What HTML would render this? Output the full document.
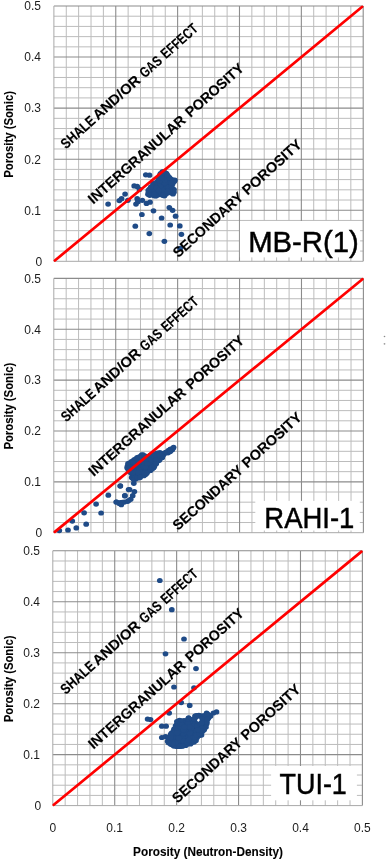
<!DOCTYPE html>
<html lang="en"><head><meta charset="utf-8"><title>Porosity crossplots</title>
<style>html,body{margin:0;padding:0;background:#fff}body{width:387px;height:860px;overflow:hidden}</style></head>
<body>
<svg width="387" height="860" viewBox="0 0 387 860" style="display:block;font-family:'Liberation Sans', sans-serif">
<rect width="387" height="860" fill="#fff"/>
<g>
<path d="M66.27 6.0V261.3M53.9 16.21H363.2M78.64 6.0V261.3M53.9 26.42H363.2M91.02 6.0V261.3M53.9 36.64H363.2M103.39 6.0V261.3M53.9 46.85H363.2M128.13 6.0V261.3M53.9 67.27H363.2M140.50 6.0V261.3M53.9 77.48H363.2M152.88 6.0V261.3M53.9 87.70H363.2M165.25 6.0V261.3M53.9 97.91H363.2M189.99 6.0V261.3M53.9 118.33H363.2M202.36 6.0V261.3M53.9 128.54H363.2M214.74 6.0V261.3M53.9 138.76H363.2M227.11 6.0V261.3M53.9 148.97H363.2M251.85 6.0V261.3M53.9 169.39H363.2M264.22 6.0V261.3M53.9 179.60H363.2M276.60 6.0V261.3M53.9 189.82H363.2M288.97 6.0V261.3M53.9 200.03H363.2M313.71 6.0V261.3M53.9 220.45H363.2M326.08 6.0V261.3M53.9 230.66H363.2M338.46 6.0V261.3M53.9 240.88H363.2M350.83 6.0V261.3M53.9 251.09H363.2" stroke="#bcbcbc" stroke-width="1" fill="none"/>
<path d="M115.76 6.0V261.3M53.9 210.24H363.2M177.62 6.0V261.3M53.9 159.18H363.2M239.48 6.0V261.3M53.9 108.12H363.2M301.34 6.0V261.3M53.9 57.06H363.2M363.20 6.0V261.3M53.9 6.00H363.2" stroke="#8c8c8c" stroke-width="1.1" fill="none"/>
<path d="M53.9 6.0V261.3H363.2" stroke="#a8a8a8" stroke-width="1" fill="none"/>
<text x="42.3" y="265.6" font-size="12" text-anchor="end" fill="#1c1c1c">0</text>
<text x="41.0" y="214.5" font-size="12" text-anchor="end" fill="#1c1c1c">0.1</text>
<text x="41.0" y="163.5" font-size="12" text-anchor="end" fill="#1c1c1c">0.2</text>
<text x="41.0" y="112.4" font-size="12" text-anchor="end" fill="#1c1c1c">0.3</text>
<text x="41.0" y="61.4" font-size="12" text-anchor="end" fill="#1c1c1c">0.4</text>
<text x="41.0" y="10.3" font-size="12" text-anchor="end" fill="#1c1c1c">0.5</text>
<text transform="translate(13.2 177.8) rotate(-90) scale(0.9520 1)" font-size="11.9" font-weight="bold" stroke="#000" stroke-width="0.1" fill="#000">Porosity (Sonic)</text>
<g fill="#1f4b87"><ellipse cx="108.1" cy="204.1" rx="2.85" ry="2.6"/><ellipse cx="119.3" cy="200.6" rx="2.85" ry="2.6"/><ellipse cx="121.6" cy="198.7" rx="2.85" ry="2.6"/><ellipse cx="125.1" cy="194.1" rx="2.85" ry="2.6"/><ellipse cx="127.9" cy="200.3" rx="2.85" ry="2.6"/><ellipse cx="134.2" cy="185.9" rx="2.85" ry="2.6"/><ellipse cx="137.2" cy="186.4" rx="2.85" ry="2.6"/><ellipse cx="137.2" cy="198.7" rx="2.85" ry="2.6"/><ellipse cx="136" cy="204.1" rx="2.85" ry="2.6"/><ellipse cx="139.5" cy="189.4" rx="2.85" ry="2.6"/><ellipse cx="137.9" cy="201.7" rx="2.85" ry="2.6"/><ellipse cx="142.3" cy="200.3" rx="2.85" ry="2.6"/><ellipse cx="141.9" cy="214.5" rx="2.85" ry="2.6"/><ellipse cx="135.3" cy="226.2" rx="2.85" ry="2.6"/><ellipse cx="146.5" cy="203.4" rx="2.85" ry="2.6"/><ellipse cx="150" cy="202.2" rx="2.85" ry="2.6"/><ellipse cx="145.8" cy="174.8" rx="2.85" ry="2.6"/><ellipse cx="149.5" cy="175.2" rx="2.85" ry="2.6"/><ellipse cx="153.5" cy="210.8" rx="2.85" ry="2.6"/><ellipse cx="149.3" cy="233.6" rx="2.85" ry="2.6"/><ellipse cx="161.6" cy="218" rx="2.85" ry="2.6"/><ellipse cx="169.3" cy="207.6" rx="2.85" ry="2.6"/><ellipse cx="172.6" cy="210.3" rx="2.85" ry="2.6"/><ellipse cx="175.6" cy="216.2" rx="2.85" ry="2.6"/><ellipse cx="170.2" cy="225" rx="2.85" ry="2.6"/><ellipse cx="179.8" cy="225.9" rx="2.85" ry="2.6"/><ellipse cx="181.4" cy="234.3" rx="2.85" ry="2.6"/><ellipse cx="164.4" cy="241.3" rx="2.85" ry="2.6"/><ellipse cx="180.2" cy="248.3" rx="2.85" ry="2.6"/><ellipse cx="148.6" cy="192.3" rx="2.85" ry="2.6"/><ellipse cx="149.3" cy="189.3" rx="2.85" ry="2.6"/><ellipse cx="162.9" cy="172" rx="2.85" ry="2.6"/><ellipse cx="160.3" cy="174.5" rx="2.85" ry="2.6"/><ellipse cx="174.6" cy="180.5" rx="2.85" ry="2.6"/><ellipse cx="173.5" cy="191.5" rx="2.85" ry="2.6"/><ellipse cx="172.3" cy="193.3" rx="2.85" ry="2.6"/><ellipse cx="164.6" cy="195.5" rx="2.85" ry="2.6"/><ellipse cx="156.5" cy="195.6" rx="2.85" ry="2.6"/><ellipse cx="151" cy="194.5" rx="2.85" ry="2.6"/><ellipse cx="166.5" cy="173.5" rx="2.85" ry="2.6"/><ellipse cx="169.5" cy="177.5" rx="2.85" ry="2.6"/><ellipse cx="153" cy="183.5" rx="2.85" ry="2.6"/><ellipse cx="150.0" cy="193.8" rx="2.85" ry="2.6"/><ellipse cx="160.0" cy="188.1" rx="2.85" ry="2.6"/><ellipse cx="172.4" cy="181.7" rx="2.85" ry="2.6"/><ellipse cx="166.2" cy="174.5" rx="2.85" ry="2.6"/><ellipse cx="168.7" cy="189.8" rx="2.85" ry="2.6"/><ellipse cx="159.2" cy="193.3" rx="2.85" ry="2.6"/><ellipse cx="155.4" cy="186.2" rx="2.85" ry="2.6"/><ellipse cx="172.7" cy="183.8" rx="2.85" ry="2.6"/><ellipse cx="159.7" cy="183.9" rx="2.85" ry="2.6"/><ellipse cx="170.3" cy="184.8" rx="2.85" ry="2.6"/><ellipse cx="160.3" cy="176.9" rx="2.85" ry="2.6"/><ellipse cx="163.9" cy="174.9" rx="2.85" ry="2.6"/><ellipse cx="162.9" cy="187.2" rx="2.85" ry="2.6"/><ellipse cx="164.3" cy="194.2" rx="2.85" ry="2.6"/><ellipse cx="171.2" cy="192.3" rx="2.85" ry="2.6"/><ellipse cx="172.6" cy="188.7" rx="2.85" ry="2.6"/><ellipse cx="158.0" cy="181.3" rx="2.85" ry="2.6"/><ellipse cx="152.4" cy="186.7" rx="2.85" ry="2.6"/><ellipse cx="164.1" cy="178.4" rx="2.85" ry="2.6"/><ellipse cx="155.1" cy="183.6" rx="2.85" ry="2.6"/><ellipse cx="156.1" cy="194.5" rx="2.85" ry="2.6"/><ellipse cx="170.7" cy="179.0" rx="2.85" ry="2.6"/><ellipse cx="152.5" cy="188.7" rx="2.85" ry="2.6"/><ellipse cx="152.5" cy="191.2" rx="2.85" ry="2.6"/><ellipse cx="172.5" cy="179.8" rx="2.85" ry="2.6"/><ellipse cx="148.0" cy="194.3" rx="2.85" ry="2.6"/><ellipse cx="154.5" cy="192.0" rx="2.85" ry="2.6"/><ellipse cx="174.8" cy="180.1" rx="2.85" ry="2.6"/><ellipse cx="163.0" cy="189.1" rx="2.85" ry="2.6"/><ellipse cx="154.0" cy="184.9" rx="2.85" ry="2.6"/><ellipse cx="166.5" cy="187.8" rx="2.85" ry="2.6"/><ellipse cx="172.5" cy="190.8" rx="2.85" ry="2.6"/><ellipse cx="150.7" cy="189.9" rx="2.85" ry="2.6"/><ellipse cx="163.2" cy="184.9" rx="2.85" ry="2.6"/><ellipse cx="166.3" cy="181.2" rx="2.85" ry="2.6"/><ellipse cx="158.9" cy="185.4" rx="2.85" ry="2.6"/><ellipse cx="155.6" cy="189.3" rx="2.85" ry="2.6"/><ellipse cx="157.6" cy="189.5" rx="2.85" ry="2.6"/><ellipse cx="162.1" cy="173.9" rx="2.85" ry="2.6"/><ellipse cx="171.5" cy="187.4" rx="2.85" ry="2.6"/><ellipse cx="154.2" cy="195.7" rx="2.85" ry="2.6"/><ellipse cx="163.0" cy="177.1" rx="2.85" ry="2.6"/><ellipse cx="163.1" cy="183.4" rx="2.85" ry="2.6"/><ellipse cx="158.4" cy="191.9" rx="2.85" ry="2.6"/><ellipse cx="169.6" cy="183.4" rx="2.85" ry="2.6"/><ellipse cx="162.4" cy="179.8" rx="2.85" ry="2.6"/><ellipse cx="166.5" cy="189.9" rx="2.85" ry="2.6"/><ellipse cx="168.5" cy="179.6" rx="2.85" ry="2.6"/><ellipse cx="168.2" cy="192.8" rx="2.85" ry="2.6"/><ellipse cx="164.2" cy="195.8" rx="2.85" ry="2.6"/><ellipse cx="158.5" cy="194.7" rx="2.85" ry="2.6"/><ellipse cx="150.3" cy="188.4" rx="2.85" ry="2.6"/><ellipse cx="158.1" cy="187.5" rx="2.85" ry="2.6"/><ellipse cx="152.1" cy="194.7" rx="2.85" ry="2.6"/><ellipse cx="173.0" cy="193.9" rx="2.85" ry="2.6"/><ellipse cx="148.6" cy="192.4" rx="2.85" ry="2.6"/><ellipse cx="164.3" cy="172.1" rx="2.85" ry="2.6"/><ellipse cx="168.1" cy="184.7" rx="2.85" ry="2.6"/><ellipse cx="162.3" cy="171.9" rx="2.85" ry="2.6"/><ellipse cx="170.7" cy="189.6" rx="2.85" ry="2.6"/><ellipse cx="154.0" cy="187.5" rx="2.85" ry="2.6"/><ellipse cx="174.2" cy="181.5" rx="2.85" ry="2.6"/><ellipse cx="173.9" cy="192.3" rx="2.85" ry="2.6"/><ellipse cx="163.0" cy="192.9" rx="2.85" ry="2.6"/><ellipse cx="156.4" cy="182.4" rx="2.85" ry="2.6"/><ellipse cx="163.3" cy="181.3" rx="2.85" ry="2.6"/><ellipse cx="167.9" cy="176.9" rx="2.85" ry="2.6"/><ellipse cx="160.7" cy="178.9" rx="2.85" ry="2.6"/><ellipse cx="166.1" cy="176.1" rx="2.85" ry="2.6"/><ellipse cx="156.9" cy="192.5" rx="2.85" ry="2.6"/><ellipse cx="165.5" cy="184.5" rx="2.85" ry="2.6"/><ellipse cx="160.4" cy="191.8" rx="2.85" ry="2.6"/><ellipse cx="166.6" cy="192.4" rx="2.85" ry="2.6"/><ellipse cx="166.2" cy="183.0" rx="2.85" ry="2.6"/><ellipse cx="161.7" cy="194.0" rx="2.85" ry="2.6"/><ellipse cx="152.5" cy="193.0" rx="2.85" ry="2.6"/><ellipse cx="160.9" cy="181.5" rx="2.85" ry="2.6"/><ellipse cx="170.4" cy="181.2" rx="2.85" ry="2.6"/><ellipse cx="155.8" cy="196.0" rx="2.85" ry="2.6"/><ellipse cx="164.5" cy="192.0" rx="2.85" ry="2.6"/><ellipse cx="165.1" cy="187.1" rx="2.85" ry="2.6"/><ellipse cx="161.4" cy="183.7" rx="2.85" ry="2.6"/><ellipse cx="165.7" cy="173.0" rx="2.85" ry="2.6"/><ellipse cx="158.6" cy="179.6" rx="2.85" ry="2.6"/><ellipse cx="166.6" cy="185.6" rx="2.85" ry="2.6"/><ellipse cx="161.9" cy="185.7" rx="2.85" ry="2.6"/><ellipse cx="168.2" cy="182.4" rx="2.85" ry="2.6"/><ellipse cx="174.0" cy="189.5" rx="2.85" ry="2.6"/><ellipse cx="169.8" cy="187.3" rx="2.85" ry="2.6"/><ellipse cx="164.7" cy="176.8" rx="2.85" ry="2.6"/><ellipse cx="149.8" cy="191.4" rx="2.85" ry="2.6"/><ellipse cx="169.8" cy="191.6" rx="2.85" ry="2.6"/><ellipse cx="165.9" cy="179.6" rx="2.85" ry="2.6"/><ellipse cx="161.7" cy="175.5" rx="2.85" ry="2.6"/><ellipse cx="148.3" cy="190.3" rx="2.85" ry="2.6"/><ellipse cx="161.8" cy="190.6" rx="2.85" ry="2.6"/><ellipse cx="160.3" cy="190.0" rx="2.85" ry="2.6"/><ellipse cx="166.3" cy="178.0" rx="2.85" ry="2.6"/><ellipse cx="164.6" cy="188.9" rx="2.85" ry="2.6"/><ellipse cx="157.3" cy="184.1" rx="2.85" ry="2.6"/><ellipse cx="156.9" cy="190.9" rx="2.85" ry="2.6"/><ellipse cx="163.5" cy="190.7" rx="2.85" ry="2.6"/><ellipse cx="151.1" cy="192.2" rx="2.85" ry="2.6"/><ellipse cx="169.4" cy="177.8" rx="2.85" ry="2.6"/><ellipse cx="156.9" cy="186.5" rx="2.85" ry="2.6"/><ellipse cx="160.5" cy="173.7" rx="2.85" ry="2.6"/><ellipse cx="159.1" cy="178.0" rx="2.85" ry="2.6"/><ellipse cx="168.2" cy="187.3" rx="2.85" ry="2.6"/><ellipse cx="165.8" cy="194.0" rx="2.85" ry="2.6"/><ellipse cx="161.5" cy="188.6" rx="2.85" ry="2.6"/><ellipse cx="171.6" cy="185.7" rx="2.85" ry="2.6"/><ellipse cx="164.6" cy="183.0" rx="2.85" ry="2.6"/><ellipse cx="160.3" cy="186.3" rx="2.85" ry="2.6"/><ellipse cx="149.7" cy="195.3" rx="2.85" ry="2.6"/><ellipse cx="171.3" cy="183.0" rx="2.85" ry="2.6"/><ellipse cx="155.5" cy="193.1" rx="2.85" ry="2.6"/><ellipse cx="159.2" cy="182.4" rx="2.85" ry="2.6"/><ellipse cx="167.7" cy="175.3" rx="2.85" ry="2.6"/><ellipse cx="153.9" cy="190.4" rx="2.85" ry="2.6"/><ellipse cx="156.5" cy="188.1" rx="2.85" ry="2.6"/><ellipse cx="154.2" cy="194.0" rx="2.85" ry="2.6"/><ellipse cx="167.8" cy="191.3" rx="2.85" ry="2.6"/><ellipse cx="162.6" cy="195.3" rx="2.85" ry="2.6"/><ellipse cx="164.6" cy="180.4" rx="2.85" ry="2.6"/><ellipse cx="159.6" cy="180.8" rx="2.85" ry="2.6"/><ellipse cx="150.9" cy="186.9" rx="2.85" ry="2.6"/><ellipse cx="158.8" cy="190.4" rx="2.85" ry="2.6"/><ellipse cx="160.0" cy="175.3" rx="2.85" ry="2.6"/><ellipse cx="162.1" cy="178.3" rx="2.85" ry="2.6"/></g>
<line x1="54.9" y1="260.48" x2="362.2" y2="6.82" stroke="#f00" stroke-width="2.7" stroke-linecap="round"/>
<g transform="translate(66.0 149.5) rotate(-42)" stroke="#000" stroke-width="0.12" fill="#000"><text transform="translate(0 0) scale(0.8405 1)" font-size="14.4" font-weight="bold">SHALE</text> <text transform="translate(43 0) scale(1.0306 1)" font-size="14.4" font-weight="bold">AND/OR</text> <text transform="translate(106 0) scale(0.7888 1)" font-size="14.4" font-weight="bold">GAS</text> <text transform="translate(134.7 0) scale(0.7915 1)" font-size="14.4" font-weight="bold">EFFECT</text></g>
<g transform="translate(93.3 204.7) rotate(-41.7)" stroke="#000" stroke-width="0.12" fill="#000"><text transform="translate(0 0) scale(0.9959 1)" font-size="14.4" font-weight="bold">INTERGRANULAR</text> <text transform="translate(130.2 0) scale(0.9815 1)" font-size="14.4" font-weight="bold">POROSITY</text></g>
<g transform="translate(176.7 259.5) rotate(-42)" stroke="#000" stroke-width="0.12" fill="#000"><text transform="translate(2.0 0) scale(0.9735 1)" font-size="14.4" font-weight="bold">SECONDARY</text> <text transform="translate(95.3 0) scale(1.0044 1)" font-size="14.4" font-weight="bold">POROSITY</text></g>
<rect x="239.9" y="221.0" width="120.2" height="36.4" fill="#fff"/>
<text transform="translate(248.15 251.6) scale(1.0241 1)" font-size="28.6" fill="#000" stroke="#000" stroke-width="0.45">MB-R(1)</text>
</g>
<g>
<path d="M66.18 278.4V532.7M53.8 288.57H363.4M78.57 278.4V532.7M53.8 298.74H363.4M90.95 278.4V532.7M53.8 308.92H363.4M103.34 278.4V532.7M53.8 319.09H363.4M128.10 278.4V532.7M53.8 339.43H363.4M140.49 278.4V532.7M53.8 349.60H363.4M152.87 278.4V532.7M53.8 359.78H363.4M165.26 278.4V532.7M53.8 369.95H363.4M190.02 278.4V532.7M53.8 390.29H363.4M202.41 278.4V532.7M53.8 400.46H363.4M214.79 278.4V532.7M53.8 410.64H363.4M227.18 278.4V532.7M53.8 420.81H363.4M251.94 278.4V532.7M53.8 441.15H363.4M264.33 278.4V532.7M53.8 451.32H363.4M276.71 278.4V532.7M53.8 461.50H363.4M289.10 278.4V532.7M53.8 471.67H363.4M313.86 278.4V532.7M53.8 492.01H363.4M326.25 278.4V532.7M53.8 502.18H363.4M338.63 278.4V532.7M53.8 512.36H363.4M351.02 278.4V532.7M53.8 522.53H363.4" stroke="#bcbcbc" stroke-width="1" fill="none"/>
<path d="M115.72 278.4V532.7M53.8 481.84H363.4M177.64 278.4V532.7M53.8 430.98H363.4M239.56 278.4V532.7M53.8 380.12H363.4M301.48 278.4V532.7M53.8 329.26H363.4M363.40 278.4V532.7M53.8 278.40H363.4" stroke="#8c8c8c" stroke-width="1.1" fill="none"/>
<path d="M53.8 278.4V532.7H363.4" stroke="#a8a8a8" stroke-width="1" fill="none"/>
<text x="42.3" y="537.0" font-size="12" text-anchor="end" fill="#1c1c1c">0</text>
<text x="41.0" y="486.1" font-size="12" text-anchor="end" fill="#1c1c1c">0.1</text>
<text x="41.0" y="435.3" font-size="12" text-anchor="end" fill="#1c1c1c">0.2</text>
<text x="41.0" y="384.4" font-size="12" text-anchor="end" fill="#1c1c1c">0.3</text>
<text x="41.0" y="333.6" font-size="12" text-anchor="end" fill="#1c1c1c">0.4</text>
<text x="41.0" y="282.7" font-size="12" text-anchor="end" fill="#1c1c1c">0.5</text>
<text transform="translate(13.2 449.6) rotate(-90) scale(0.9520 1)" font-size="11.9" font-weight="bold" stroke="#000" stroke-width="0.1" fill="#000">Porosity (Sonic)</text>
<g fill="#1f4b87"><ellipse cx="59.3" cy="530.6" rx="2.85" ry="2.6"/><ellipse cx="68" cy="530" rx="2.85" ry="2.6"/><ellipse cx="76.3" cy="527.9" rx="2.85" ry="2.6"/><ellipse cx="72.3" cy="521.1" rx="2.85" ry="2.6"/><ellipse cx="86.2" cy="524.2" rx="2.85" ry="2.6"/><ellipse cx="84.1" cy="512.8" rx="2.85" ry="2.6"/><ellipse cx="101.1" cy="513" rx="2.85" ry="2.6"/><ellipse cx="96.1" cy="504.1" rx="2.85" ry="2.6"/><ellipse cx="108.3" cy="495.2" rx="2.85" ry="2.6"/><ellipse cx="120.3" cy="486.1" rx="2.85" ry="2.6"/><ellipse cx="116.6" cy="502" rx="2.85" ry="2.6"/><ellipse cx="120.3" cy="502.7" rx="2.85" ry="2.6"/><ellipse cx="121.3" cy="504.7" rx="2.85" ry="2.6"/><ellipse cx="124.4" cy="502" rx="2.85" ry="2.6"/><ellipse cx="124.8" cy="495.8" rx="2.85" ry="2.6"/><ellipse cx="128.6" cy="500.6" rx="2.85" ry="2.6"/><ellipse cx="128.6" cy="489.6" rx="2.85" ry="2.6"/><ellipse cx="120.3" cy="485.8" rx="2.85" ry="2.6"/><ellipse cx="129.6" cy="489.5" rx="2.85" ry="2.6"/><ellipse cx="134.4" cy="491.6" rx="2.85" ry="2.6"/><ellipse cx="124.9" cy="495.7" rx="2.85" ry="2.6"/><ellipse cx="132.7" cy="495.7" rx="2.85" ry="2.6"/><ellipse cx="130.7" cy="499.3" rx="2.85" ry="2.6"/><ellipse cx="127.6" cy="501.3" rx="2.85" ry="2.6"/><ellipse cx="122.4" cy="502.4" rx="2.85" ry="2.6"/><ellipse cx="119.3" cy="503.4" rx="2.85" ry="2.6"/><ellipse cx="116.2" cy="502" rx="2.85" ry="2.6"/><ellipse cx="133.8" cy="483.3" rx="2.85" ry="2.6"/><ellipse cx="131.7" cy="477.5" rx="2.85" ry="2.6"/><ellipse cx="173.6" cy="447.3" rx="2.85" ry="2.6"/><ellipse cx="172.3" cy="449.8" rx="2.85" ry="2.6"/><ellipse cx="170.2" cy="451.6" rx="2.85" ry="2.6"/><ellipse cx="168" cy="452.8" rx="2.85" ry="2.6"/><ellipse cx="165.8" cy="452.4" rx="2.85" ry="2.6"/><ellipse cx="164" cy="453.5" rx="2.85" ry="2.6"/><ellipse cx="160.3" cy="452.9" rx="2.85" ry="2.6"/><ellipse cx="170.6" cy="449" rx="2.85" ry="2.6"/><ellipse cx="162.3" cy="457.6" rx="2.85" ry="2.6"/><ellipse cx="159.3" cy="460.3" rx="2.85" ry="2.6"/><ellipse cx="156.3" cy="463.6" rx="2.85" ry="2.6"/><ellipse cx="153.6" cy="467.5" rx="2.85" ry="2.6"/><ellipse cx="159.2" cy="456.2" rx="2.85" ry="2.6"/><ellipse cx="133.4" cy="460.7" rx="2.85" ry="2.6"/><ellipse cx="145.2" cy="471.6" rx="2.85" ry="2.6"/><ellipse cx="148.8" cy="456.5" rx="2.85" ry="2.6"/><ellipse cx="132.3" cy="463.7" rx="2.85" ry="2.6"/><ellipse cx="148.6" cy="465.8" rx="2.85" ry="2.6"/><ellipse cx="150.8" cy="464.0" rx="2.85" ry="2.6"/><ellipse cx="142.7" cy="467.6" rx="2.85" ry="2.6"/><ellipse cx="138.3" cy="460.4" rx="2.85" ry="2.6"/><ellipse cx="161.9" cy="453.7" rx="2.85" ry="2.6"/><ellipse cx="143.9" cy="464.0" rx="2.85" ry="2.6"/><ellipse cx="156.2" cy="455.5" rx="2.85" ry="2.6"/><ellipse cx="140.8" cy="476.0" rx="2.85" ry="2.6"/><ellipse cx="139.7" cy="458.6" rx="2.85" ry="2.6"/><ellipse cx="151.9" cy="462.5" rx="2.85" ry="2.6"/><ellipse cx="147.0" cy="470.0" rx="2.85" ry="2.6"/><ellipse cx="137.1" cy="469.7" rx="2.85" ry="2.6"/><ellipse cx="138.4" cy="478.0" rx="2.85" ry="2.6"/><ellipse cx="148.6" cy="470.9" rx="2.85" ry="2.6"/><ellipse cx="135.5" cy="472.4" rx="2.85" ry="2.6"/><ellipse cx="140.7" cy="468.7" rx="2.85" ry="2.6"/><ellipse cx="158.3" cy="459.3" rx="2.85" ry="2.6"/><ellipse cx="147.7" cy="468.5" rx="2.85" ry="2.6"/><ellipse cx="143.1" cy="458.1" rx="2.85" ry="2.6"/><ellipse cx="132.7" cy="476.4" rx="2.85" ry="2.6"/><ellipse cx="142.4" cy="473.3" rx="2.85" ry="2.6"/><ellipse cx="145.2" cy="462.3" rx="2.85" ry="2.6"/><ellipse cx="148.3" cy="460.0" rx="2.85" ry="2.6"/><ellipse cx="137.6" cy="462.6" rx="2.85" ry="2.6"/><ellipse cx="135.5" cy="478.9" rx="2.85" ry="2.6"/><ellipse cx="136.2" cy="458.8" rx="2.85" ry="2.6"/><ellipse cx="145.5" cy="474.4" rx="2.85" ry="2.6"/><ellipse cx="135.2" cy="466.3" rx="2.85" ry="2.6"/><ellipse cx="135.9" cy="475.4" rx="2.85" ry="2.6"/><ellipse cx="160.8" cy="454.8" rx="2.85" ry="2.6"/><ellipse cx="152.5" cy="459.3" rx="2.85" ry="2.6"/><ellipse cx="134.0" cy="467.2" rx="2.85" ry="2.6"/><ellipse cx="136.6" cy="467.6" rx="2.85" ry="2.6"/><ellipse cx="161.9" cy="457.5" rx="2.85" ry="2.6"/><ellipse cx="135.6" cy="470.9" rx="2.85" ry="2.6"/><ellipse cx="136.7" cy="464.5" rx="2.85" ry="2.6"/><ellipse cx="141.6" cy="464.7" rx="2.85" ry="2.6"/><ellipse cx="129.3" cy="464.8" rx="2.85" ry="2.6"/><ellipse cx="150.6" cy="455.2" rx="2.85" ry="2.6"/><ellipse cx="171.5" cy="449.4" rx="2.85" ry="2.6"/><ellipse cx="153.0" cy="465.9" rx="2.85" ry="2.6"/><ellipse cx="160.5" cy="458.2" rx="2.85" ry="2.6"/><ellipse cx="132.8" cy="469.4" rx="2.85" ry="2.6"/><ellipse cx="145.8" cy="468.8" rx="2.85" ry="2.6"/><ellipse cx="142.0" cy="462.5" rx="2.85" ry="2.6"/><ellipse cx="139.5" cy="463.4" rx="2.85" ry="2.6"/><ellipse cx="137.6" cy="476.1" rx="2.85" ry="2.6"/><ellipse cx="134.3" cy="474.6" rx="2.85" ry="2.6"/><ellipse cx="168.2" cy="450.5" rx="2.85" ry="2.6"/><ellipse cx="164.7" cy="453.2" rx="2.85" ry="2.6"/><ellipse cx="144.4" cy="460.4" rx="2.85" ry="2.6"/><ellipse cx="137.1" cy="457.5" rx="2.85" ry="2.6"/><ellipse cx="145.2" cy="465.7" rx="2.85" ry="2.6"/><ellipse cx="154.5" cy="464.3" rx="2.85" ry="2.6"/><ellipse cx="159.6" cy="452.9" rx="2.85" ry="2.6"/><ellipse cx="152.9" cy="456.0" rx="2.85" ry="2.6"/><ellipse cx="157.9" cy="455.2" rx="2.85" ry="2.6"/><ellipse cx="132.0" cy="474.0" rx="2.85" ry="2.6"/><ellipse cx="140.1" cy="473.5" rx="2.85" ry="2.6"/><ellipse cx="149.3" cy="469.2" rx="2.85" ry="2.6"/><ellipse cx="152.4" cy="468.7" rx="2.85" ry="2.6"/><ellipse cx="129.5" cy="471.3" rx="2.85" ry="2.6"/><ellipse cx="139.2" cy="467.9" rx="2.85" ry="2.6"/><ellipse cx="147.0" cy="471.7" rx="2.85" ry="2.6"/><ellipse cx="128.2" cy="469.2" rx="2.85" ry="2.6"/><ellipse cx="163.3" cy="455.0" rx="2.85" ry="2.6"/><ellipse cx="138.8" cy="475.2" rx="2.85" ry="2.6"/><ellipse cx="146.0" cy="464.3" rx="2.85" ry="2.6"/><ellipse cx="166.1" cy="452.6" rx="2.85" ry="2.6"/><ellipse cx="149.9" cy="467.2" rx="2.85" ry="2.6"/><ellipse cx="146.0" cy="460.6" rx="2.85" ry="2.6"/><ellipse cx="173.2" cy="448.1" rx="2.85" ry="2.6"/><ellipse cx="152.1" cy="457.3" rx="2.85" ry="2.6"/><ellipse cx="154.8" cy="460.8" rx="2.85" ry="2.6"/><ellipse cx="141.7" cy="466.4" rx="2.85" ry="2.6"/><ellipse cx="132.9" cy="478.4" rx="2.85" ry="2.6"/><ellipse cx="129.7" cy="463.1" rx="2.85" ry="2.6"/><ellipse cx="154.8" cy="457.8" rx="2.85" ry="2.6"/><ellipse cx="134.6" cy="469.3" rx="2.85" ry="2.6"/><ellipse cx="153.5" cy="454.5" rx="2.85" ry="2.6"/><ellipse cx="138.1" cy="466.9" rx="2.85" ry="2.6"/><ellipse cx="133.2" cy="465.0" rx="2.85" ry="2.6"/><ellipse cx="140.7" cy="459.8" rx="2.85" ry="2.6"/><ellipse cx="128.7" cy="467.6" rx="2.85" ry="2.6"/><ellipse cx="130.7" cy="465.4" rx="2.85" ry="2.6"/><ellipse cx="146.2" cy="456.4" rx="2.85" ry="2.6"/><ellipse cx="143.9" cy="469.0" rx="2.85" ry="2.6"/><ellipse cx="134.6" cy="462.1" rx="2.85" ry="2.6"/><ellipse cx="157.5" cy="453.1" rx="2.85" ry="2.6"/><ellipse cx="154.6" cy="462.5" rx="2.85" ry="2.6"/><ellipse cx="147.5" cy="461.8" rx="2.85" ry="2.6"/><ellipse cx="131.3" cy="461.7" rx="2.85" ry="2.6"/><ellipse cx="127.5" cy="466.1" rx="2.85" ry="2.6"/><ellipse cx="156.9" cy="458.4" rx="2.85" ry="2.6"/><ellipse cx="156.0" cy="453.6" rx="2.85" ry="2.6"/><ellipse cx="132.2" cy="471.1" rx="2.85" ry="2.6"/><ellipse cx="138.4" cy="470.9" rx="2.85" ry="2.6"/><ellipse cx="156.2" cy="462.1" rx="2.85" ry="2.6"/><ellipse cx="137.3" cy="474.1" rx="2.85" ry="2.6"/><ellipse cx="141.7" cy="457.5" rx="2.85" ry="2.6"/><ellipse cx="142.4" cy="475.3" rx="2.85" ry="2.6"/><ellipse cx="150.5" cy="470.4" rx="2.85" ry="2.6"/><ellipse cx="139.5" cy="472.1" rx="2.85" ry="2.6"/><ellipse cx="134.3" cy="459.5" rx="2.85" ry="2.6"/><ellipse cx="170.0" cy="449.5" rx="2.85" ry="2.6"/><ellipse cx="147.4" cy="457.8" rx="2.85" ry="2.6"/><ellipse cx="130.2" cy="469.7" rx="2.85" ry="2.6"/><ellipse cx="128.0" cy="463.5" rx="2.85" ry="2.6"/><ellipse cx="140.2" cy="456.6" rx="2.85" ry="2.6"/><ellipse cx="144.6" cy="456.3" rx="2.85" ry="2.6"/><ellipse cx="141.7" cy="454.9" rx="2.85" ry="2.6"/><ellipse cx="157.8" cy="460.8" rx="2.85" ry="2.6"/><ellipse cx="134.0" cy="471.7" rx="2.85" ry="2.6"/><ellipse cx="142.1" cy="469.4" rx="2.85" ry="2.6"/><ellipse cx="151.3" cy="460.5" rx="2.85" ry="2.6"/><ellipse cx="132.5" cy="467.0" rx="2.85" ry="2.6"/><ellipse cx="142.6" cy="459.6" rx="2.85" ry="2.6"/><ellipse cx="158.4" cy="457.5" rx="2.85" ry="2.6"/><ellipse cx="150.7" cy="458.9" rx="2.85" ry="2.6"/><ellipse cx="149.9" cy="462.0" rx="2.85" ry="2.6"/><ellipse cx="143.5" cy="471.7" rx="2.85" ry="2.6"/><ellipse cx="143.2" cy="454.8" rx="2.85" ry="2.6"/><ellipse cx="140.0" cy="464.8" rx="2.85" ry="2.6"/><ellipse cx="130.4" cy="467.0" rx="2.85" ry="2.6"/><ellipse cx="148.9" cy="464.1" rx="2.85" ry="2.6"/><ellipse cx="151.5" cy="465.3" rx="2.85" ry="2.6"/><ellipse cx="140.2" cy="466.3" rx="2.85" ry="2.6"/><ellipse cx="134.2" cy="476.1" rx="2.85" ry="2.6"/><ellipse cx="138.8" cy="457.2" rx="2.85" ry="2.6"/><ellipse cx="130.5" cy="472.6" rx="2.85" ry="2.6"/><ellipse cx="140.8" cy="470.7" rx="2.85" ry="2.6"/><ellipse cx="139.2" cy="469.6" rx="2.85" ry="2.6"/><ellipse cx="147.0" cy="466.6" rx="2.85" ry="2.6"/><ellipse cx="143.3" cy="465.8" rx="2.85" ry="2.6"/><ellipse cx="150.9" cy="468.9" rx="2.85" ry="2.6"/><ellipse cx="135.7" cy="460.9" rx="2.85" ry="2.6"/><ellipse cx="138.3" cy="464.3" rx="2.85" ry="2.6"/><ellipse cx="141.2" cy="472.3" rx="2.85" ry="2.6"/><ellipse cx="140.5" cy="461.5" rx="2.85" ry="2.6"/><ellipse cx="144.9" cy="457.9" rx="2.85" ry="2.6"/><ellipse cx="149.0" cy="458.2" rx="2.85" ry="2.6"/><ellipse cx="167.6" cy="452.2" rx="2.85" ry="2.6"/><ellipse cx="134.9" cy="477.4" rx="2.85" ry="2.6"/><ellipse cx="134.8" cy="464.1" rx="2.85" ry="2.6"/><ellipse cx="152.9" cy="463.9" rx="2.85" ry="2.6"/><ellipse cx="154.4" cy="456.2" rx="2.85" ry="2.6"/><ellipse cx="161.9" cy="455.9" rx="2.85" ry="2.6"/><ellipse cx="153.4" cy="461.3" rx="2.85" ry="2.6"/><ellipse cx="139.0" cy="461.8" rx="2.85" ry="2.6"/><ellipse cx="153.7" cy="467.4" rx="2.85" ry="2.6"/><ellipse cx="133.9" cy="479.7" rx="2.85" ry="2.6"/><ellipse cx="132.7" cy="472.6" rx="2.85" ry="2.6"/><ellipse cx="136.9" cy="477.7" rx="2.85" ry="2.6"/><ellipse cx="145.5" cy="467.3" rx="2.85" ry="2.6"/><ellipse cx="143.4" cy="461.8" rx="2.85" ry="2.6"/><ellipse cx="170.2" cy="451.0" rx="2.85" ry="2.6"/><ellipse cx="138.1" cy="472.7" rx="2.85" ry="2.6"/><ellipse cx="151.9" cy="467.0" rx="2.85" ry="2.6"/><ellipse cx="143.9" cy="475.7" rx="2.85" ry="2.6"/><ellipse cx="140.1" cy="477.4" rx="2.85" ry="2.6"/><ellipse cx="150.5" cy="457.3" rx="2.85" ry="2.6"/><ellipse cx="156.1" cy="460.0" rx="2.85" ry="2.6"/><ellipse cx="149.8" cy="460.2" rx="2.85" ry="2.6"/><ellipse cx="131.7" cy="468.3" rx="2.85" ry="2.6"/><ellipse cx="127.1" cy="467.8" rx="2.85" ry="2.6"/><ellipse cx="144.5" cy="473.2" rx="2.85" ry="2.6"/><ellipse cx="154.5" cy="466.0" rx="2.85" ry="2.6"/><ellipse cx="155.9" cy="463.7" rx="2.85" ry="2.6"/><ellipse cx="146.8" cy="473.3" rx="2.85" ry="2.6"/><ellipse cx="147.2" cy="463.3" rx="2.85" ry="2.6"/><ellipse cx="159.3" cy="454.5" rx="2.85" ry="2.6"/><ellipse cx="132.9" cy="462.3" rx="2.85" ry="2.6"/><ellipse cx="146.3" cy="458.9" rx="2.85" ry="2.6"/></g>
<line x1="54.8" y1="531.88" x2="362.4" y2="279.22" stroke="#f00" stroke-width="2.7" stroke-linecap="round"/>
<g transform="translate(66.3 422.6) rotate(-42)" stroke="#000" stroke-width="0.12" fill="#000"><text transform="translate(0 0) scale(0.8405 1)" font-size="14.4" font-weight="bold">SHALE</text> <text transform="translate(43 0) scale(1.0306 1)" font-size="14.4" font-weight="bold">AND/OR</text> <text transform="translate(106 0) scale(0.7888 1)" font-size="14.4" font-weight="bold">GAS</text> <text transform="translate(134.7 0) scale(0.7915 1)" font-size="14.4" font-weight="bold">EFFECT</text></g>
<g transform="translate(93.7 476.9) rotate(-41.7)" stroke="#000" stroke-width="0.12" fill="#000"><text transform="translate(0 0) scale(0.9959 1)" font-size="14.4" font-weight="bold">INTERGRANULAR</text> <text transform="translate(130.2 0) scale(0.9815 1)" font-size="14.4" font-weight="bold">POROSITY</text></g>
<g transform="translate(176.5 532.4) rotate(-42)" stroke="#000" stroke-width="0.12" fill="#000"><text transform="translate(2.0 0) scale(0.9735 1)" font-size="14.4" font-weight="bold">SECONDARY</text> <text transform="translate(95.3 0) scale(1.0044 1)" font-size="14.4" font-weight="bold">POROSITY</text></g>
<rect x="255.3" y="500.9" width="104.5" height="29.6" fill="#fff"/>
<text transform="translate(264.30 527.5) scale(0.9504 1)" font-size="28.9" fill="#000" stroke="#000" stroke-width="0.45">RAHI-1</text>
</g>
<g>
<path d="M65.18 550.8V805.6M52.8 560.99H362.4M77.57 550.8V805.6M52.8 571.18H362.4M89.95 550.8V805.6M52.8 581.38H362.4M102.34 550.8V805.6M52.8 591.57H362.4M127.10 550.8V805.6M52.8 611.95H362.4M139.49 550.8V805.6M52.8 622.14H362.4M151.87 550.8V805.6M52.8 632.34H362.4M164.26 550.8V805.6M52.8 642.53H362.4M189.02 550.8V805.6M52.8 662.91H362.4M201.41 550.8V805.6M52.8 673.10H362.4M213.79 550.8V805.6M52.8 683.30H362.4M226.18 550.8V805.6M52.8 693.49H362.4M250.94 550.8V805.6M52.8 713.87H362.4M263.33 550.8V805.6M52.8 724.06H362.4M275.71 550.8V805.6M52.8 734.26H362.4M288.10 550.8V805.6M52.8 744.45H362.4M312.86 550.8V805.6M52.8 764.83H362.4M325.25 550.8V805.6M52.8 775.02H362.4M337.63 550.8V805.6M52.8 785.22H362.4M350.02 550.8V805.6M52.8 795.41H362.4" stroke="#bcbcbc" stroke-width="1" fill="none"/>
<path d="M114.72 550.8V805.6M52.8 754.64H362.4M176.64 550.8V805.6M52.8 703.68H362.4M238.56 550.8V805.6M52.8 652.72H362.4M300.48 550.8V805.6M52.8 601.76H362.4M362.40 550.8V805.6M52.8 550.80H362.4" stroke="#8c8c8c" stroke-width="1.1" fill="none"/>
<path d="M52.8 550.8V805.6H362.4" stroke="#a8a8a8" stroke-width="1" fill="none"/>
<text x="41.2" y="809.9" font-size="12" text-anchor="end" fill="#1c1c1c">0</text>
<text x="39.9" y="758.9" font-size="12" text-anchor="end" fill="#1c1c1c">0.1</text>
<text x="39.9" y="708.0" font-size="12" text-anchor="end" fill="#1c1c1c">0.2</text>
<text x="39.9" y="657.0" font-size="12" text-anchor="end" fill="#1c1c1c">0.3</text>
<text x="39.9" y="606.1" font-size="12" text-anchor="end" fill="#1c1c1c">0.4</text>
<text x="39.9" y="555.1" font-size="12" text-anchor="end" fill="#1c1c1c">0.5</text>
<text transform="translate(13.2 722.3) rotate(-90) scale(0.9520 1)" font-size="11.9" font-weight="bold" stroke="#000" stroke-width="0.1" fill="#000">Porosity (Sonic)</text>
<g fill="#1f4b87"><ellipse cx="159.8" cy="580.5" rx="2.85" ry="2.6"/><ellipse cx="171.8" cy="609.7" rx="2.85" ry="2.6"/><ellipse cx="184" cy="639" rx="2.85" ry="2.6"/><ellipse cx="165.5" cy="653.8" rx="2.85" ry="2.6"/><ellipse cx="196" cy="668.6" rx="2.85" ry="2.6"/><ellipse cx="174" cy="687" rx="2.85" ry="2.6"/><ellipse cx="194" cy="687.8" rx="2.85" ry="2.6"/><ellipse cx="181.2" cy="702.6" rx="2.85" ry="2.6"/><ellipse cx="189.7" cy="705.4" rx="2.85" ry="2.6"/><ellipse cx="169.2" cy="713.1" rx="2.85" ry="2.6"/><ellipse cx="147.6" cy="719.1" rx="2.85" ry="2.6"/><ellipse cx="150.5" cy="719.6" rx="2.85" ry="2.6"/><ellipse cx="161.8" cy="726.2" rx="2.85" ry="2.6"/><ellipse cx="166.1" cy="726.2" rx="2.85" ry="2.6"/><ellipse cx="161.8" cy="737.5" rx="2.85" ry="2.6"/><ellipse cx="178.8" cy="720.9" rx="2.85" ry="2.6"/><ellipse cx="188.7" cy="717.8" rx="2.85" ry="2.6"/><ellipse cx="195" cy="716.1" rx="2.85" ry="2.6"/><ellipse cx="198.9" cy="715.4" rx="2.85" ry="2.6"/><ellipse cx="206.6" cy="713.2" rx="2.85" ry="2.6"/><ellipse cx="216.5" cy="711.9" rx="2.85" ry="2.6"/><ellipse cx="213.4" cy="713" rx="2.85" ry="2.6"/><ellipse cx="165.5" cy="736.6" rx="2.85" ry="2.6"/><ellipse cx="176.9" cy="721.5" rx="2.85" ry="2.6"/><ellipse cx="184" cy="720.6" rx="2.85" ry="2.6"/><ellipse cx="202.5" cy="716" rx="2.85" ry="2.6"/><ellipse cx="210" cy="715.5" rx="2.85" ry="2.6"/><ellipse cx="199.6" cy="715.8" rx="2.85" ry="2.6"/><ellipse cx="193.3" cy="738.7" rx="2.85" ry="2.6"/><ellipse cx="168.4" cy="739.4" rx="2.85" ry="2.6"/><ellipse cx="196.7" cy="732.6" rx="2.85" ry="2.6"/><ellipse cx="201.4" cy="716.2" rx="2.85" ry="2.6"/><ellipse cx="203.7" cy="718.1" rx="2.85" ry="2.6"/><ellipse cx="182.9" cy="744.2" rx="2.85" ry="2.6"/><ellipse cx="175.6" cy="725.8" rx="2.85" ry="2.6"/><ellipse cx="198.0" cy="716.0" rx="2.85" ry="2.6"/><ellipse cx="189.9" cy="730.1" rx="2.85" ry="2.6"/><ellipse cx="199.0" cy="728.0" rx="2.85" ry="2.6"/><ellipse cx="184.0" cy="737.4" rx="2.85" ry="2.6"/><ellipse cx="178.5" cy="727.7" rx="2.85" ry="2.6"/><ellipse cx="182.4" cy="722.9" rx="2.85" ry="2.6"/><ellipse cx="183.2" cy="735.2" rx="2.85" ry="2.6"/><ellipse cx="175.3" cy="741.3" rx="2.85" ry="2.6"/><ellipse cx="177.0" cy="738.9" rx="2.85" ry="2.6"/><ellipse cx="175.6" cy="730.7" rx="2.85" ry="2.6"/><ellipse cx="179.6" cy="720.3" rx="2.85" ry="2.6"/><ellipse cx="185.2" cy="733.4" rx="2.85" ry="2.6"/><ellipse cx="185.5" cy="741.1" rx="2.85" ry="2.6"/><ellipse cx="203.1" cy="726.3" rx="2.85" ry="2.6"/><ellipse cx="189.9" cy="719.4" rx="2.85" ry="2.6"/><ellipse cx="188.0" cy="726.5" rx="2.85" ry="2.6"/><ellipse cx="171.5" cy="742.7" rx="2.85" ry="2.6"/><ellipse cx="178.5" cy="733.9" rx="2.85" ry="2.6"/><ellipse cx="193.0" cy="727.1" rx="2.85" ry="2.6"/><ellipse cx="177.5" cy="736.8" rx="2.85" ry="2.6"/><ellipse cx="184.5" cy="722.4" rx="2.85" ry="2.6"/><ellipse cx="206.9" cy="715.5" rx="2.85" ry="2.6"/><ellipse cx="195.2" cy="728.6" rx="2.85" ry="2.6"/><ellipse cx="180.9" cy="736.2" rx="2.85" ry="2.6"/><ellipse cx="191.7" cy="723.6" rx="2.85" ry="2.6"/><ellipse cx="201.7" cy="731.9" rx="2.85" ry="2.6"/><ellipse cx="174.8" cy="735.0" rx="2.85" ry="2.6"/><ellipse cx="174.6" cy="744.5" rx="2.85" ry="2.6"/><ellipse cx="168.6" cy="737.7" rx="2.85" ry="2.6"/><ellipse cx="192.3" cy="719.5" rx="2.85" ry="2.6"/><ellipse cx="206.7" cy="723.7" rx="2.85" ry="2.6"/><ellipse cx="183.0" cy="725.6" rx="2.85" ry="2.6"/><ellipse cx="171.0" cy="740.2" rx="2.85" ry="2.6"/><ellipse cx="187.5" cy="738.8" rx="2.85" ry="2.6"/><ellipse cx="194.9" cy="732.6" rx="2.85" ry="2.6"/><ellipse cx="200.8" cy="729.0" rx="2.85" ry="2.6"/><ellipse cx="205.1" cy="723.3" rx="2.85" ry="2.6"/><ellipse cx="202.9" cy="730.8" rx="2.85" ry="2.6"/><ellipse cx="184.8" cy="724.3" rx="2.85" ry="2.6"/><ellipse cx="174.0" cy="729.0" rx="2.85" ry="2.6"/><ellipse cx="204.4" cy="720.6" rx="2.85" ry="2.6"/><ellipse cx="179.3" cy="741.6" rx="2.85" ry="2.6"/><ellipse cx="181.4" cy="733.5" rx="2.85" ry="2.6"/><ellipse cx="186.1" cy="722.9" rx="2.85" ry="2.6"/><ellipse cx="190.3" cy="739.4" rx="2.85" ry="2.6"/><ellipse cx="173.2" cy="735.0" rx="2.85" ry="2.6"/><ellipse cx="195.4" cy="726.2" rx="2.85" ry="2.6"/><ellipse cx="180.8" cy="746.2" rx="2.85" ry="2.6"/><ellipse cx="173.2" cy="739.6" rx="2.85" ry="2.6"/><ellipse cx="188.2" cy="734.3" rx="2.85" ry="2.6"/><ellipse cx="192.5" cy="742.2" rx="2.85" ry="2.6"/><ellipse cx="190.3" cy="735.8" rx="2.85" ry="2.6"/><ellipse cx="170.5" cy="735.9" rx="2.85" ry="2.6"/><ellipse cx="185.1" cy="729.9" rx="2.85" ry="2.6"/><ellipse cx="175.5" cy="745.7" rx="2.85" ry="2.6"/><ellipse cx="186.2" cy="720.9" rx="2.85" ry="2.6"/><ellipse cx="172.7" cy="745.1" rx="2.85" ry="2.6"/><ellipse cx="201.5" cy="735.1" rx="2.85" ry="2.6"/><ellipse cx="184.0" cy="745.5" rx="2.85" ry="2.6"/><ellipse cx="175.8" cy="733.0" rx="2.85" ry="2.6"/><ellipse cx="189.5" cy="728.5" rx="2.85" ry="2.6"/><ellipse cx="188.3" cy="743.6" rx="2.85" ry="2.6"/><ellipse cx="176.8" cy="724.3" rx="2.85" ry="2.6"/><ellipse cx="179.8" cy="725.0" rx="2.85" ry="2.6"/><ellipse cx="191.0" cy="726.3" rx="2.85" ry="2.6"/><ellipse cx="187.6" cy="732.6" rx="2.85" ry="2.6"/><ellipse cx="194.2" cy="721.0" rx="2.85" ry="2.6"/><ellipse cx="176.9" cy="727.1" rx="2.85" ry="2.6"/><ellipse cx="201.3" cy="733.6" rx="2.85" ry="2.6"/><ellipse cx="176.9" cy="741.7" rx="2.85" ry="2.6"/><ellipse cx="181.3" cy="744.6" rx="2.85" ry="2.6"/><ellipse cx="183.9" cy="728.5" rx="2.85" ry="2.6"/><ellipse cx="195.0" cy="722.3" rx="2.85" ry="2.6"/><ellipse cx="179.9" cy="722.1" rx="2.85" ry="2.6"/><ellipse cx="185.1" cy="743.8" rx="2.85" ry="2.6"/><ellipse cx="195.1" cy="738.9" rx="2.85" ry="2.6"/><ellipse cx="194.4" cy="735.9" rx="2.85" ry="2.6"/><ellipse cx="186.1" cy="728.0" rx="2.85" ry="2.6"/><ellipse cx="178.8" cy="723.8" rx="2.85" ry="2.6"/><ellipse cx="171.5" cy="733.0" rx="2.85" ry="2.6"/><ellipse cx="182.0" cy="727.1" rx="2.85" ry="2.6"/><ellipse cx="176.9" cy="746.4" rx="2.85" ry="2.6"/><ellipse cx="192.5" cy="721.5" rx="2.85" ry="2.6"/><ellipse cx="180.7" cy="728.8" rx="2.85" ry="2.6"/><ellipse cx="188.3" cy="718.3" rx="2.85" ry="2.6"/><ellipse cx="197.5" cy="724.1" rx="2.85" ry="2.6"/><ellipse cx="193.3" cy="729.0" rx="2.85" ry="2.6"/><ellipse cx="194.9" cy="724.0" rx="2.85" ry="2.6"/><ellipse cx="170.0" cy="743.0" rx="2.85" ry="2.6"/><ellipse cx="205.7" cy="718.8" rx="2.85" ry="2.6"/><ellipse cx="178.4" cy="743.4" rx="2.85" ry="2.6"/><ellipse cx="196.4" cy="715.7" rx="2.85" ry="2.6"/><ellipse cx="205.3" cy="725.3" rx="2.85" ry="2.6"/><ellipse cx="202.7" cy="723.8" rx="2.85" ry="2.6"/><ellipse cx="173.9" cy="742.1" rx="2.85" ry="2.6"/><ellipse cx="206.1" cy="720.7" rx="2.85" ry="2.6"/><ellipse cx="175.4" cy="738.3" rx="2.85" ry="2.6"/><ellipse cx="193.3" cy="724.4" rx="2.85" ry="2.6"/><ellipse cx="177.2" cy="744.4" rx="2.85" ry="2.6"/><ellipse cx="202.8" cy="721.3" rx="2.85" ry="2.6"/><ellipse cx="170.8" cy="744.3" rx="2.85" ry="2.6"/><ellipse cx="173.4" cy="731.2" rx="2.85" ry="2.6"/><ellipse cx="172.7" cy="737.3" rx="2.85" ry="2.6"/><ellipse cx="202.9" cy="716.8" rx="2.85" ry="2.6"/><ellipse cx="195.0" cy="734.2" rx="2.85" ry="2.6"/><ellipse cx="175.5" cy="736.6" rx="2.85" ry="2.6"/><ellipse cx="197.5" cy="727.9" rx="2.85" ry="2.6"/><ellipse cx="182.3" cy="742.3" rx="2.85" ry="2.6"/><ellipse cx="192.9" cy="732.9" rx="2.85" ry="2.6"/><ellipse cx="199.2" cy="735.4" rx="2.85" ry="2.6"/><ellipse cx="199.0" cy="725.6" rx="2.85" ry="2.6"/><ellipse cx="204.2" cy="729.7" rx="2.85" ry="2.6"/><ellipse cx="194.4" cy="740.3" rx="2.85" ry="2.6"/><ellipse cx="190.5" cy="743.9" rx="2.85" ry="2.6"/><ellipse cx="192.9" cy="734.8" rx="2.85" ry="2.6"/><ellipse cx="206.0" cy="716.9" rx="2.85" ry="2.6"/><ellipse cx="179.3" cy="736.7" rx="2.85" ry="2.6"/><ellipse cx="178.1" cy="730.1" rx="2.85" ry="2.6"/><ellipse cx="179.5" cy="730.6" rx="2.85" ry="2.6"/><ellipse cx="189.5" cy="724.5" rx="2.85" ry="2.6"/><ellipse cx="192.7" cy="731.3" rx="2.85" ry="2.6"/><ellipse cx="186.8" cy="744.3" rx="2.85" ry="2.6"/><ellipse cx="180.1" cy="739.5" rx="2.85" ry="2.6"/><ellipse cx="179.6" cy="735.2" rx="2.85" ry="2.6"/><ellipse cx="182.0" cy="731.3" rx="2.85" ry="2.6"/><ellipse cx="185.3" cy="736.5" rx="2.85" ry="2.6"/><ellipse cx="180.2" cy="742.9" rx="2.85" ry="2.6"/><ellipse cx="192.0" cy="737.6" rx="2.85" ry="2.6"/><ellipse cx="206.0" cy="727.1" rx="2.85" ry="2.6"/><ellipse cx="178.2" cy="721.8" rx="2.85" ry="2.6"/><ellipse cx="191.6" cy="730.0" rx="2.85" ry="2.6"/><ellipse cx="197.1" cy="737.6" rx="2.85" ry="2.6"/><ellipse cx="209.0" cy="717.0" rx="2.85" ry="2.6"/><ellipse cx="184.1" cy="731.7" rx="2.85" ry="2.6"/><ellipse cx="187.6" cy="729.8" rx="2.85" ry="2.6"/><ellipse cx="182.5" cy="738.6" rx="2.85" ry="2.6"/><ellipse cx="182.4" cy="728.7" rx="2.85" ry="2.6"/><ellipse cx="188.5" cy="742.0" rx="2.85" ry="2.6"/><ellipse cx="208.7" cy="714.9" rx="2.85" ry="2.6"/><ellipse cx="201.2" cy="725.5" rx="2.85" ry="2.6"/><ellipse cx="199.3" cy="729.7" rx="2.85" ry="2.6"/><ellipse cx="178.1" cy="725.8" rx="2.85" ry="2.6"/><ellipse cx="173.9" cy="746.1" rx="2.85" ry="2.6"/><ellipse cx="204.6" cy="715.6" rx="2.85" ry="2.6"/><ellipse cx="195.5" cy="717.6" rx="2.85" ry="2.6"/><ellipse cx="179.2" cy="744.8" rx="2.85" ry="2.6"/><ellipse cx="186.5" cy="734.7" rx="2.85" ry="2.6"/><ellipse cx="190.3" cy="721.4" rx="2.85" ry="2.6"/><ellipse cx="189.0" cy="731.5" rx="2.85" ry="2.6"/><ellipse cx="187.6" cy="737.3" rx="2.85" ry="2.6"/><ellipse cx="167.7" cy="741.3" rx="2.85" ry="2.6"/><ellipse cx="175.3" cy="728.0" rx="2.85" ry="2.6"/><ellipse cx="194.7" cy="730.8" rx="2.85" ry="2.6"/><ellipse cx="182.3" cy="736.8" rx="2.85" ry="2.6"/><ellipse cx="202.3" cy="719.1" rx="2.85" ry="2.6"/><ellipse cx="196.0" cy="740.4" rx="2.85" ry="2.6"/><ellipse cx="169.4" cy="741.0" rx="2.85" ry="2.6"/><ellipse cx="190.0" cy="742.3" rx="2.85" ry="2.6"/><ellipse cx="181.2" cy="741.2" rx="2.85" ry="2.6"/><ellipse cx="189.3" cy="722.6" rx="2.85" ry="2.6"/><ellipse cx="198.4" cy="731.5" rx="2.85" ry="2.6"/><ellipse cx="176.9" cy="734.5" rx="2.85" ry="2.6"/><ellipse cx="191.3" cy="734.2" rx="2.85" ry="2.6"/><ellipse cx="199.9" cy="731.9" rx="2.85" ry="2.6"/><ellipse cx="181.2" cy="720.9" rx="2.85" ry="2.6"/><ellipse cx="188.3" cy="719.9" rx="2.85" ry="2.6"/><ellipse cx="180.4" cy="738.0" rx="2.85" ry="2.6"/><ellipse cx="174.2" cy="733.2" rx="2.85" ry="2.6"/><ellipse cx="185.0" cy="739.1" rx="2.85" ry="2.6"/><ellipse cx="180.4" cy="731.9" rx="2.85" ry="2.6"/><ellipse cx="187.1" cy="725.1" rx="2.85" ry="2.6"/><ellipse cx="196.4" cy="730.4" rx="2.85" ry="2.6"/><ellipse cx="183.1" cy="733.3" rx="2.85" ry="2.6"/><ellipse cx="178.5" cy="731.8" rx="2.85" ry="2.6"/><ellipse cx="184.5" cy="742.4" rx="2.85" ry="2.6"/><ellipse cx="190.4" cy="732.3" rx="2.85" ry="2.6"/><ellipse cx="208.2" cy="718.5" rx="2.85" ry="2.6"/><ellipse cx="187.0" cy="741.2" rx="2.85" ry="2.6"/><ellipse cx="191.4" cy="740.8" rx="2.85" ry="2.6"/><ellipse cx="192.8" cy="740.3" rx="2.85" ry="2.6"/><ellipse cx="193.9" cy="725.8" rx="2.85" ry="2.6"/><ellipse cx="198.2" cy="734.3" rx="2.85" ry="2.6"/><ellipse cx="194.2" cy="718.9" rx="2.85" ry="2.6"/><ellipse cx="204.2" cy="727.7" rx="2.85" ry="2.6"/><ellipse cx="210.6" cy="716.1" rx="2.85" ry="2.6"/><ellipse cx="201.2" cy="727.1" rx="2.85" ry="2.6"/><ellipse cx="194.1" cy="741.9" rx="2.85" ry="2.6"/><ellipse cx="177.2" cy="728.8" rx="2.85" ry="2.6"/><ellipse cx="195.9" cy="736.3" rx="2.85" ry="2.6"/><ellipse cx="183.5" cy="740.8" rx="2.85" ry="2.6"/><ellipse cx="187.8" cy="722.3" rx="2.85" ry="2.6"/><ellipse cx="180.3" cy="726.7" rx="2.85" ry="2.6"/><ellipse cx="185.8" cy="726.4" rx="2.85" ry="2.6"/><ellipse cx="177.8" cy="740.3" rx="2.85" ry="2.6"/><ellipse cx="197.1" cy="726.0" rx="2.85" ry="2.6"/><ellipse cx="172.5" cy="741.4" rx="2.85" ry="2.6"/><ellipse cx="170.7" cy="734.4" rx="2.85" ry="2.6"/><ellipse cx="185.8" cy="731.4" rx="2.85" ry="2.6"/><ellipse cx="179.3" cy="746.4" rx="2.85" ry="2.6"/><ellipse cx="170.8" cy="737.8" rx="2.85" ry="2.6"/><ellipse cx="185.7" cy="745.4" rx="2.85" ry="2.6"/><ellipse cx="197.7" cy="736.0" rx="2.85" ry="2.6"/><ellipse cx="188.0" cy="723.9" rx="2.85" ry="2.6"/><ellipse cx="206.9" cy="722.1" rx="2.85" ry="2.6"/><ellipse cx="200.6" cy="724.1" rx="2.85" ry="2.6"/><ellipse cx="175.5" cy="743.1" rx="2.85" ry="2.6"/><ellipse cx="188.8" cy="736.2" rx="2.85" ry="2.6"/><ellipse cx="180.5" cy="723.6" rx="2.85" ry="2.6"/><ellipse cx="201.5" cy="722.7" rx="2.85" ry="2.6"/><ellipse cx="191.3" cy="728.1" rx="2.85" ry="2.6"/><ellipse cx="186.8" cy="742.7" rx="2.85" ry="2.6"/><ellipse cx="194.5" cy="737.5" rx="2.85" ry="2.6"/><ellipse cx="190.1" cy="737.7" rx="2.85" ry="2.6"/><ellipse cx="207.2" cy="713.9" rx="2.85" ry="2.6"/><ellipse cx="177.3" cy="732.7" rx="2.85" ry="2.6"/><ellipse cx="189.5" cy="726.7" rx="2.85" ry="2.6"/><ellipse cx="181.8" cy="724.5" rx="2.85" ry="2.6"/><ellipse cx="178.7" cy="738.2" rx="2.85" ry="2.6"/><ellipse cx="182.5" cy="746.2" rx="2.85" ry="2.6"/><ellipse cx="202.3" cy="728.4" rx="2.85" ry="2.6"/><ellipse cx="188.7" cy="740.0" rx="2.85" ry="2.6"/><ellipse cx="183.4" cy="730.1" rx="2.85" ry="2.6"/><ellipse cx="172.8" cy="743.6" rx="2.85" ry="2.6"/><ellipse cx="196.7" cy="734.9" rx="2.85" ry="2.6"/><ellipse cx="168.5" cy="742.7" rx="2.85" ry="2.6"/><ellipse cx="207.1" cy="719.5" rx="2.85" ry="2.6"/><ellipse cx="184.3" cy="726.9" rx="2.85" ry="2.6"/><ellipse cx="189.6" cy="733.6" rx="2.85" ry="2.6"/><ellipse cx="199.7" cy="733.7" rx="2.85" ry="2.6"/><ellipse cx="200.8" cy="730.6" rx="2.85" ry="2.6"/><ellipse cx="197.7" cy="729.6" rx="2.85" ry="2.6"/></g>
<line x1="53.8" y1="804.78" x2="361.4" y2="551.62" stroke="#f00" stroke-width="2.7" stroke-linecap="round"/>
<g transform="translate(65.8 694.9) rotate(-42)" stroke="#000" stroke-width="0.12" fill="#000"><text transform="translate(0 0) scale(0.8405 1)" font-size="14.4" font-weight="bold">SHALE</text> <text transform="translate(43 0) scale(1.0306 1)" font-size="14.4" font-weight="bold">AND/OR</text> <text transform="translate(106 0) scale(0.7888 1)" font-size="14.4" font-weight="bold">GAS</text> <text transform="translate(134.7 0) scale(0.7915 1)" font-size="14.4" font-weight="bold">EFFECT</text></g>
<g transform="translate(93.4 749.7) rotate(-41.7)" stroke="#000" stroke-width="0.12" fill="#000"><text transform="translate(0 0) scale(0.9959 1)" font-size="14.4" font-weight="bold">INTERGRANULAR</text> <text transform="translate(130.2 0) scale(0.9815 1)" font-size="14.4" font-weight="bold">POROSITY</text></g>
<g transform="translate(176.0 805.2) rotate(-42.4)" stroke="#000" stroke-width="0.12" fill="#000"><text transform="translate(2.0 0) scale(0.9735 1)" font-size="14.4" font-weight="bold">SECONDARY</text> <text transform="translate(95.3 0) scale(1.0044 1)" font-size="14.4" font-weight="bold">POROSITY</text></g>
<rect x="271.1" y="766.0" width="85.8" height="34.3" fill="#fff"/>
<text transform="translate(279.50 793.7) scale(0.9422 1)" font-size="28.6" fill="#000" stroke="#000" stroke-width="0.45">TUI-1</text>
</g>
<text x="52.8" y="831.6" font-size="12" text-anchor="middle" fill="#1c1c1c">0</text>
<text x="114.7" y="831.6" font-size="12" text-anchor="middle" fill="#1c1c1c">0.1</text>
<text x="176.6" y="831.6" font-size="12" text-anchor="middle" fill="#1c1c1c">0.2</text>
<text x="238.6" y="831.6" font-size="12" text-anchor="middle" fill="#1c1c1c">0.3</text>
<text x="300.5" y="831.6" font-size="12" text-anchor="middle" fill="#1c1c1c">0.4</text>
<text x="362.4" y="831.6" font-size="12" text-anchor="middle" fill="#1c1c1c">0.5</text>
<text transform="translate(133.1 856.3) scale(0.9901 1)" font-size="11.9" font-weight="bold" stroke="#000" stroke-width="0.1" fill="#000">Porosity (Neutron-Density)</text>
<circle cx="384.5" cy="336.5" r="0.8" fill="#8a8a8a"/><circle cx="384.5" cy="343.8" r="0.9" fill="#9a9a9a"/>
</svg>
</body></html>
